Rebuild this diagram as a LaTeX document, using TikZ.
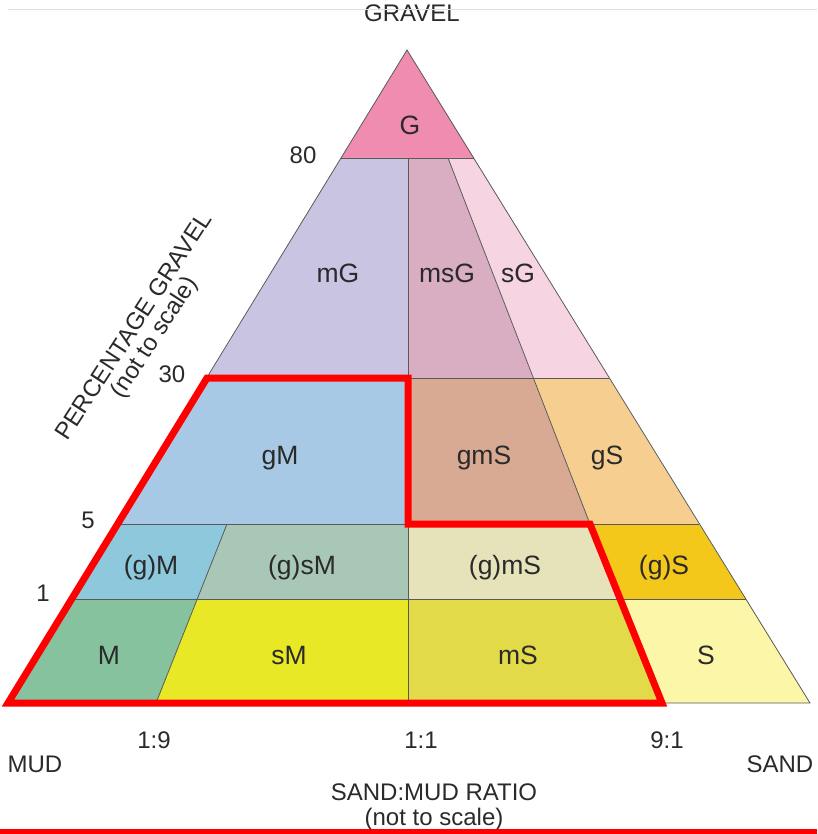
\documentclass[tikz,border=0pt]{standalone}
\usepackage{fontspec}
\setmainfont{Liberation Sans}
\usepackage{tikz}
\definecolor{cG}{HTML}{F08CAF}
\definecolor{cmG}{HTML}{C9C4E2}
\definecolor{cmsG}{HTML}{D9AEC2}
\definecolor{csG}{HTML}{F7D4E2}
\definecolor{cgM}{HTML}{A8C9E5}
\definecolor{cgmS}{HTML}{D8AA94}
\definecolor{cgS}{HTML}{F6CF90}
\definecolor{cpgM}{HTML}{8DC8DD}
\definecolor{cpgsM}{HTML}{A8C7B6}
\definecolor{cpgmS}{HTML}{E6E2BA}
\definecolor{cpgS}{HTML}{F4C81A}
\definecolor{cM}{HTML}{86C29E}
\definecolor{csM}{HTML}{E8E826}
\definecolor{cmS}{HTML}{E2DA48}
\definecolor{cS}{HTML}{FCF6A9}
\definecolor{ink}{HTML}{2A2A2A}
\tikzset{
  cell/.style={draw=black!65, line width=0.8pt},
  lbl/.style={font=\fontsize{26.5}{30}\selectfont, text=ink, anchor=base},
  axis/.style={font=\fontsize{24}{27}\selectfont, text=ink, anchor=base},
  redline/.style={draw=red, line width=7pt, line join=miter}
}

\begin{document}
\begin{tikzpicture}[x=1pt,y=-1pt]
  \useasboundingbox (0,0) rectangle (817,834);
  % corners of the triangle and of the classes
  \coordinate (top) at (407,50);
  \coordinate (l80) at (341,158);  \coordinate (c80) at (408,158);
  \coordinate (s80) at (448,158);  \coordinate (r80) at (474,158);
  \coordinate (l30) at (207,378);  \coordinate (c30) at (408,378);
  \coordinate (s30) at (533,378);  \coordinate (r30) at (609,378);
  \coordinate (l5) at (117,524);   \coordinate (m5) at (227,524);
  \coordinate (c5) at (408,524);   \coordinate (s5) at (590,524);
  \coordinate (r5) at (699,524);
  \coordinate (l1) at (72,599);    \coordinate (m1) at (197,599);
  \coordinate (c1) at (408,599);   \coordinate (s1) at (620,599);
  \coordinate (r1) at (746,599);
  \coordinate (l0) at (8,703);     \coordinate (m0) at (156,703);
  \coordinate (c0) at (408,703);   \coordinate (s0) at (662,703);
  \coordinate (r0) at (810,703);

  \fill[cG] (top) -- (l80) -- (r80) -- cycle;
  \fill[cmG] (l80) -- (c80) -- (c30) -- (l30) -- cycle;
  \fill[cmsG] (c80) -- (s80) -- (s30) -- (c30) -- cycle;
  \fill[csG] (s80) -- (r80) -- (r30) -- (s30) -- cycle;
  \fill[cgM] (l30) -- (c30) -- (c5) -- (l5) -- cycle;
  \fill[cgmS] (c30) -- (s30) -- (s5) -- (c5) -- cycle;
  \fill[cgS] (s30) -- (r30) -- (r5) -- (s5) -- cycle;
  \fill[cpgM] (l5) -- (m5) -- (m1) -- (l1) -- cycle;
  \fill[cpgsM] (m5) -- (c5) -- (c1) -- (m1) -- cycle;
  \fill[cpgmS] (c5) -- (s5) -- (s1) -- (c1) -- cycle;
  \fill[cpgS] (s5) -- (r5) -- (r1) -- (s1) -- cycle;
  \fill[cM] (l1) -- (m1) -- (m0) -- (l0) -- cycle;
  \fill[csM] (m1) -- (c1) -- (c0) -- (m0) -- cycle;
  \fill[cmS] (c1) -- (s1) -- (s0) -- (c0) -- cycle;
  \fill[cS] (s1) -- (r1) -- (r0) -- (s0) -- cycle;

  % class borders
  \draw[cell] (top) -- (l0) -- (r0) -- cycle;
  \draw[cell] (l80) -- (r80) (l30) -- (r30) (l5) -- (r5) (l1) -- (r1);
  \draw[cell] (c80) -- (c0);
  \draw[cell] (s80) -- (s5) -- (s0);
  \draw[cell] (m5) -- (m0);

  % muddy classes
  \draw[redline] (l0) -- (l30) -- (c30) -- (c5) -- (s5) -- (s0) -- cycle;

  \node[lbl] (G) at (410,134.5) {G};
  \node[lbl] (mG) at (338,282.5) {mG};
  \node[lbl] (msG) at (447,282.5) {msG};
  \node[lbl] (sG) at (518,282.5) {sG};
  \node[lbl] (gM) at (280,464) {gM};
  \node[lbl] (gmS) at (484,464) {gmS};
  \node[lbl] (gS) at (607,464) {gS};
  \node[lbl] (pgM) at (151,574) {(g)M};
  \node[lbl] (pgsM) at (302,574) {(g)sM};
  \node[lbl] (pgmS) at (505,574) {(g)mS};
  \node[lbl] (pgS) at (664,574) {(g)S};
  \node[lbl] (M) at (109,664.5) {M};
  \node[lbl] (sM) at (289,664.5) {sM};
  \node[lbl] (mS) at (518,664.5) {mS};
  \node[lbl] (S) at (706,664.5) {S};

  \node[axis] (gravel) at (412,22) {GRAVEL};
  \node[axis] (p80) at (303,163.5) {80};
  \node[axis] (p30) at (172,382.5) {30};
  \node[axis] (p5) at (88,528.5) {5};
  \node[axis] (p1) at (43,601.5) {1};
  \node[axis, anchor=center, rotate=57] (pgrav) at (133,326) {PERCENTAGE GRAVEL};
  \node[axis, anchor=center, rotate=57] (pnts) at (155,338) {(not to scale)};
  \node[axis] (r19) at (154,748.5) {1:9};
  \node[axis] (r11) at (421,748.5) {1:1};
  \node[axis] (r91) at (667,748.5) {9:1};
  \node[axis, anchor=base west] (mud) at (4,772.5) {MUD};
  \node[axis, anchor=base west] (sand) at (743,772.5) {SAND};
  \node[axis] (ratio) at (434,800) {SAND:MUD RATIO};
  \node[axis] (nts) at (434,825) {(not to scale)};

  \draw[black!12, line width=1pt] (8,10) -- (817,10);
  \draw[red, line width=5pt] (0,831) -- (817,831);
\end{tikzpicture}
\end{document}
